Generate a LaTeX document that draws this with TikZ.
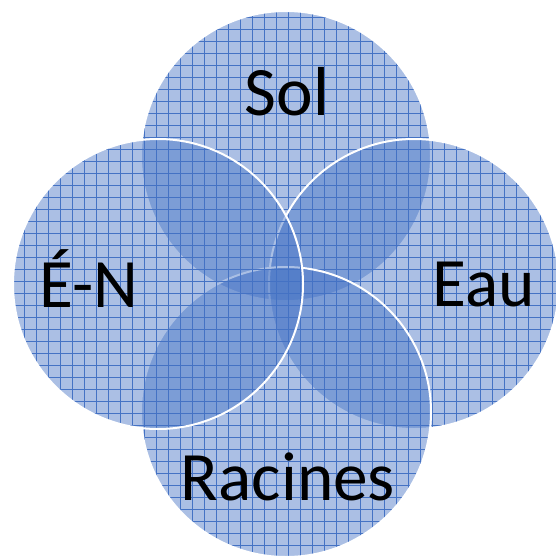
\documentclass[tikz,border=0pt]{standalone}
\usepackage{fontspec}
\setmainfont{Carlito}
\usetikzlibrary{patterns.meta}
\definecolor{venn}{RGB}{68,114,196}

\begin{document}
\begin{tikzpicture}
\tikzstyle{ring}=[circle,draw=white,line width=1.5pt,inner sep=0pt,outer sep=0pt,minimum size=217.5pt,
  preaction={fill=venn,fill opacity=0.45},
  preaction={pattern={Hatch[distance=9pt,angle=0,line width=0.6pt]},pattern color=venn,fill opacity=0.45}]
\tikzstyle{word}=[anchor=base,inner sep=0pt,font=\fontsize{52}{62}\selectfont]

% FRAME
\useasboundingbox (0,0) rectangle (417pt,-417.75pt);

% CIRCLES (top, right, bottom, left)
\node (sol) [ring] at (214.5pt,-117pt) {};
\node (eau) [ring] at (310.5pt,-213pt) {};
\node (racines) [ring] at (214.5pt,-309pt) {};
\node (en) [ring] at (118.5pt,-213pt) {};

% LABELS
\node (solt) [word,xshift=0.75pt,yshift=30.75pt] at (sol.center) {Sol};
\node (eaut) [word,xshift=52.5pt,yshift=-16.5pt] at (eau.center) {Eau};
\node (racinest) [word,xshift=1.5pt,yshift=-66pt] at (racines.center) {Racines};
\node (ent) [word,xshift=-51.75pt,yshift=-17.25pt] at (en.center) {É-N};

\end{tikzpicture}
\end{document}
